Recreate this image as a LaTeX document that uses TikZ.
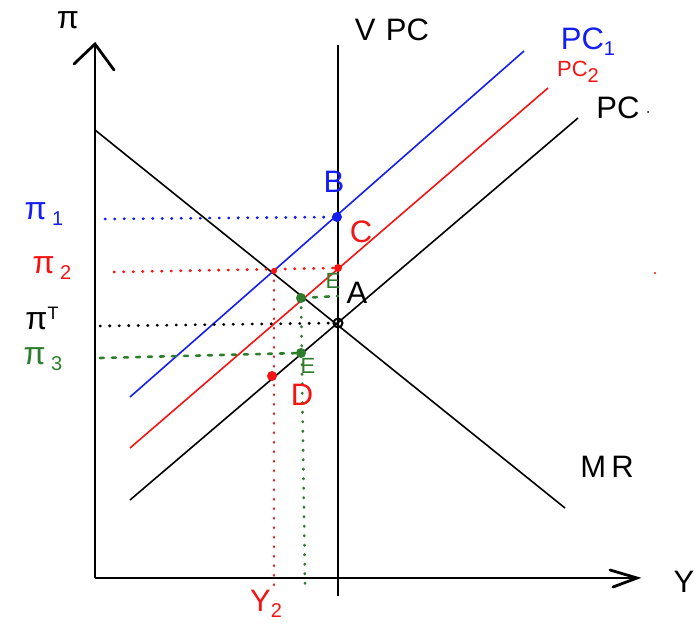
\documentclass[tikz,border=0pt]{standalone}
\usepackage{fontspec}
\setmainfont{Liberation Sans}
\definecolor{pcblue}{RGB}{20,30,240}
\definecolor{pcred}{RGB}{245,20,20}
\definecolor{pcgreen}{RGB}{45,125,45}
\newcommand{\lowsub}[1]{\raisebox{-6pt}{\fontsize{20}{22}\selectfont #1}}
\newcommand{\highsup}[1]{\raisebox{10pt}{\fontsize{18}{20}\selectfont #1}}
\begin{document}
\begin{tikzpicture}[x=1pt,y=-1pt,
  axis/.style={line width=2.8pt,black},
  curve/.style={line width=1.6pt},
  guide/.style={line width=2.8pt,line cap=round,dash pattern=on 0.5pt off 9pt},
  gdash/.style={line width=2.6pt,line cap=round,dash pattern=on 4pt off 8pt},
  pt/.style={circle,fill,inner sep=0pt,minimum size=10pt},
  lab/.style={font=\fontsize{31}{33}\selectfont,inner sep=0pt},
  slab/.style={font=\fontsize{22}{24}\selectfont,inner sep=0pt},
  plab/.style={font=\fontsize{32}{34}\selectfont,inner sep=0pt}]
\useasboundingbox (0,0) rectangle (697,626);
% axes
\coordinate (O) at (95,578);
\coordinate (ytop) at (95,44);
\coordinate (xend) at (637,578);
\draw[axis] (O) -- (ytop);
\draw[axis,line cap=round] (74,64) -- (ytop) -- (114,70);
\draw[axis] (O) -- (xend);
\draw[axis,line cap=round] (610,570) -- (xend) -- (613,587);
\node[plab] (piax) at (68,20) {π};
\node[lab] (yax) at (684,582) {Y};
% VPC
\coordinate (vtop) at (338,45);
\coordinate (vbot) at (338,596);
\draw[axis,line width=2.4pt] (vtop) -- (vbot);
\node[lab] (vpclab) at (392,30) {V\,\,PC};
% MR
\coordinate (mr1) at (95,130);
\coordinate (mr2) at (565,508);
\draw[curve] (mr1) -- (mr2);
\node[lab] (mrlab) at (607,467) {M\,R};
% PC lines
\coordinate (pc0a) at (130,500);
\coordinate (pc0b) at (578,118);
\draw[curve] (pc0a) -- (pc0b);
\node[lab] (pclab) at (618,108) {PC};
\fill (648,112) circle (1pt);
\coordinate (pc2a) at (130,448);
\coordinate (pc2b) at (548,88);
\draw[curve,pcred] (pc2a) -- (pc2b);
\node[slab,text=pcred] (pc2lab) at (578,72) {PC\lowsub{2}};
\coordinate (pc1a) at (130,397);
\coordinate (pc1b) at (524,51);
\draw[curve,pcblue] (pc1a) -- (pc1b);
\node[lab,text=pcblue] (pc1lab) at (588,42) {PC\lowsub{1}};
% key points
\coordinate (A) at (338,323);
\coordinate (B) at (337,217);
\coordinate (C) at (338,268);
\coordinate (X) at (274,271);
\coordinate (D) at (272,376);
\coordinate (G1) at (301,298);
\coordinate (G2) at (301,353);
% pi labels
\node[plab,text=pcblue] (p1) at (44,214) {π\,\lowsub{1}};
\node[plab,text=pcred] (p2) at (52,268) {π\,\lowsub{2}};
\node[plab] (pT) at (42,318) {π\highsup{T}};
\node[plab,text=pcgreen] (p3) at (43,359) {π\,\lowsub{3}};
% guide lines
\coordinate (b0) at (105,219);
\coordinate (r0) at (114,272);
\coordinate (k0) at (100,326);
\coordinate (g0) at (100,358);
\coordinate (ybot) at (274,592);
\coordinate (gbot) at (305,585);
\coordinate (gA) at (338,296);
\draw[guide,pcblue] (b0) -- (B);
\draw[guide,pcred] (r0) -- (C);
\draw[guide] (k0) -- (A);
\draw[gdash,pcgreen] (g0) -- (G2);
\draw[guide,pcred] (X) -- (ybot);
\draw[guide,pcgreen] (G1) -- (gbot);
\draw[gdash,pcgreen] (G1) -- (gA);
% dots
\node[pt,pcblue] at (B) {};
\node[pt,pcred,minimum size=8pt] at (C) {};
\node[pt,pcred,minimum size=6pt] at (X) {};
\node[pt,pcred] at (D) {};
\node[pt,pcgreen] at (G1) {};
\node[pt,pcgreen] at (G2) {};
\node[circle,draw,line width=2pt,inner sep=0pt,minimum size=9pt] at (A) {};
\fill[pcred] (655,273) circle (1.2pt);
% point labels
\node[lab,text=pcblue] (Blab) at (334,182) {B};
\node[lab,text=pcred] (Clab) at (361,232) {C};
\node[lab] (Alab) at (357,293) {A};
\node[slab,text=pcgreen] (E1) at (333,281) {E};
\node[slab,text=pcgreen] (E2) at (308,366) {E};
\node[lab,text=pcred] (Dlab) at (302,395) {D};
\node[lab,text=pcred] (Y2) at (266,604) {Y\lowsub{2}};
\end{tikzpicture}
\end{document}
